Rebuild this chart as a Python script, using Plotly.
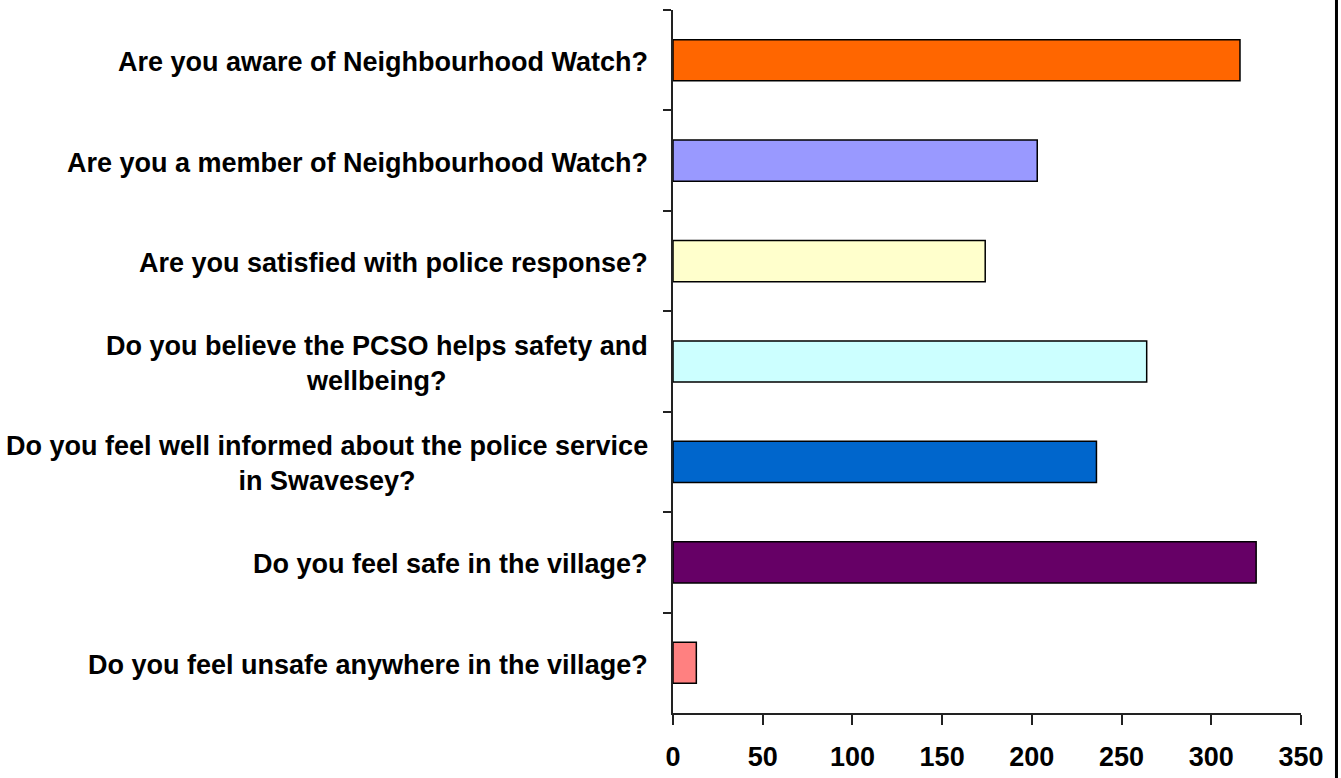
import plotly.graph_objects as go

questions = [
    "Are you aware of Neighbourhood Watch?",
    "Are you a member of Neighbourhood Watch?",
    "Are you satisfied with police response?",
    "Do you believe the PCSO helps safety and<br>wellbeing?",
    "Do you feel well informed about the police service<br>in Swavesey?",
    "Do you feel safe in the village?",
    "Do you feel unsafe anywhere in the village?",
]
counts = [316, 203, 174, 264, 236, 325, 13]
colors = ["#FF6600", "#9999FF", "#FFFFCC", "#CCFFFF", "#0066CC", "#660066", "#FF8080"]
x_ticks = [0, 50, 100, 150, 200, 250, 300, 350]

FONT = "Liberation Sans, Arial, sans-serif"

fig = go.Figure()
fig.add_trace(go.Bar(
    y=questions, x=counts, orientation="h",
    marker=dict(color=colors, line=dict(color="#000000", width=1.5)),
    width=0.41, showlegend=False, hoverinfo="x+y",
))

for q in questions:
    fig.add_annotation(
        x=0, xref="paper", y=q, yref="y",
        xanchor="right", yanchor="middle", xshift=-23, yshift=-2,
        text="<b>" + q + "</b>", showarrow=False, align="center",
        font=dict(family=FONT, size=27, color="#000000"),
    )

fig.add_shape(type="line", xref="paper", yref="paper",
              x0=1.0565, x1=1.0565, y0=-0.0925, y1=1.0142,
              line=dict(color="#000000", width=3))

fig.update_xaxes(
    range=[0, 350], tickvals=x_ticks, ticktext=[f"<b>{v}</b>" for v in x_ticks],
    showgrid=False, zeroline=False, showline=True, linecolor="#222222", linewidth=1.5,
    ticks="outside", ticklen=10, tickwidth=1.5, tickcolor="#222222",
    tickfont=dict(family=FONT, size=27, color="#000000"),
    ticklabelstandoff=9, automargin=False,
)
fig.update_yaxes(
    type="category", categoryorder="array", categoryarray=questions,
    autorange="reversed", tickson="boundaries", showticklabels=False,
    showgrid=False, zeroline=False, showline=True, linecolor="#222222", linewidth=1.5,
    ticks="outside", ticklen=8, tickwidth=1.5, tickcolor="#222222",
    automargin=False,
)

fig.update_layout(
    width=1341, height=778,
    margin=dict(l=673, r=40, t=10, b=65),
    paper_bgcolor="#FFFFFF", plot_bgcolor="#FFFFFF",
    font=dict(family=FONT, size=27, color="#000000"),
)

fig.write_html("out.html", config={"displayModeBar": False},
               post_script="document.body.style.margin='0px';document.body.style.overflow='hidden';")
